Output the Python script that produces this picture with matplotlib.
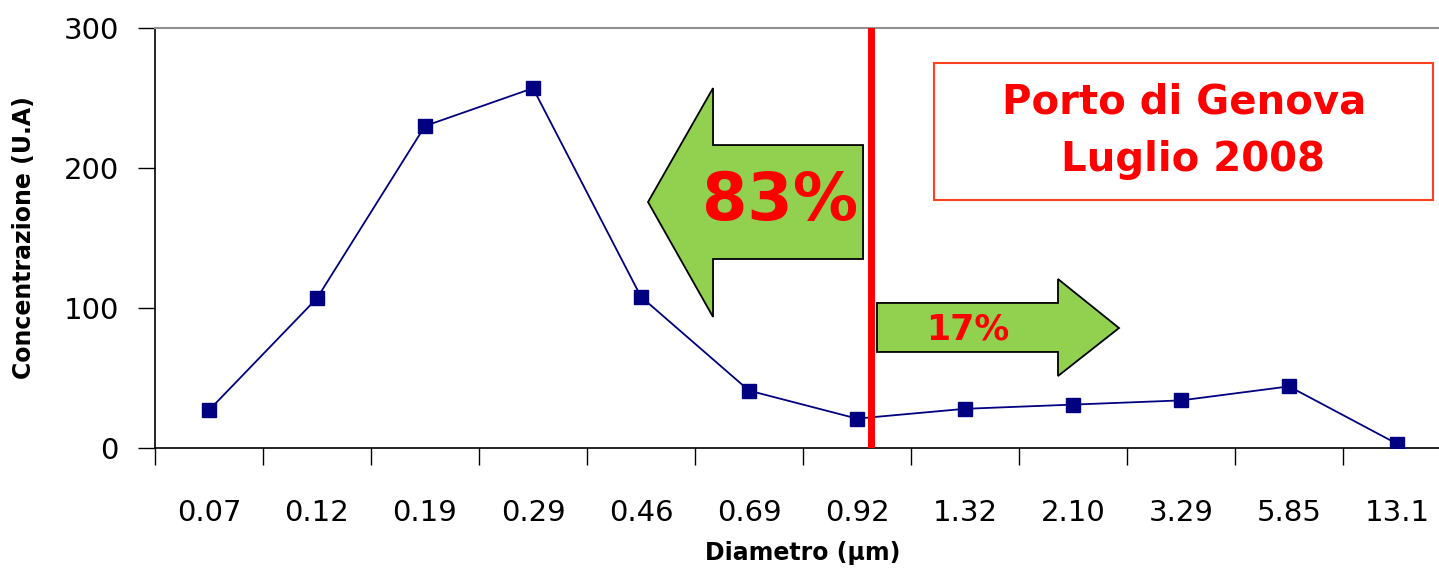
import matplotlib as mpl
mpl.use('Agg')
import matplotlib.pyplot as plt
from matplotlib.patches import Polygon, Rectangle

# data
diametri = ['0.07', '0.12', '0.19', '0.29', '0.46', '0.69', '0.92',
            '1.32', '2.10', '3.29', '5.85', '13.1']
concentrazione = [27, 107, 230, 257, 108, 41, 21, 28, 31, 34, 44, 3]
yticks = [0, 100, 200, 300]

fig = plt.figure(figsize=(14.39, 5.77), dpi=100)
ax = fig.add_axes([155/1439, 129/577, 1296/1439, 420/577])

x = list(range(len(diametri)))
ax.plot(x, concentrazione, color='#000080', lw=1.3, marker='s', markersize=10,
        markerfacecolor='#000080', markeredgecolor='#000080', zorder=3)

ax.set_xlim(-0.5, len(diametri) - 0.5)
ax.set_ylim(0, 300)
ax.set_yticks(yticks)
ax.tick_params(axis='y', direction='out', length=12, width=1, pad=14, labelsize=21)

# boundaries get the tick marks, centres get the labels
ax.set_xticks([i - 0.5 for i in range(len(diametri) + 1)])
ax.set_xticklabels([])
ax.set_xticks(x, minor=True)
ax.set_xticklabels(diametri, minor=True)
ax.tick_params(axis='x', which='major', direction='out', length=12, width=1)
ax.tick_params(axis='x', which='minor', length=0, pad=37, labelsize=21)

ax.spines['right'].set_visible(False)
ax.spines['top'].set_color('#909090')
ax.spines['top'].set_linewidth(1.5)
ax.spines['left'].set_linewidth(1.2)
ax.spines['bottom'].set_linewidth(1.2)

ax.set_xlabel('Diametro (\u03bcm)', fontsize=17, fontweight='bold', labelpad=10)
ax.set_ylabel('Concentrazione (U.A)', fontsize=17, fontweight='bold', labelpad=20)

# red separator
ax.axvline(6.13, color='#ff0000', lw=5, zorder=4)

green = '#92d050'
left_arrow = [(4.065, 175.7), (4.667, 257.1), (4.667, 216.4), (6.056, 216.4),
              (6.056, 135.0), (4.667, 135.0), (4.667, 93.6)]
right_arrow = [(6.185, 103.6), (7.861, 103.6), (7.861, 120.7), (8.426, 85.7),
               (7.861, 51.4), (7.861, 68.6), (6.185, 68.6)]
ax.add_patch(Polygon(left_arrow, closed=True, facecolor=green, edgecolor='black', lw=1.3, zorder=2))
ax.add_patch(Polygon(right_arrow, closed=True, facecolor=green, edgecolor='black', lw=1.3, zorder=2))
ax.text(5.29, 176, '83%', color='#ff0000', fontsize=47, fontweight='bold',
        ha='center', va='center', zorder=5)
ax.text(7.03, 85, '17%', color='#ff0000', fontsize=25, fontweight='bold',
        ha='center', va='center', zorder=5)

# title box
fig.patches.append(Rectangle((934/1439, 1 - 200/577), 499/1439, 137/577,
                             transform=fig.transFigure, facecolor='white',
                             edgecolor='#ff4020', lw=1.5))
fig.text(1184/1439, 1 - 102/577, 'Porto di Genova', color='#ff0000', fontsize=29,
         fontweight='bold', ha='center', va='center')
fig.text(1193/1439, 1 - 160/577, 'Luglio 2008', color='#ff0000', fontsize=29,
         fontweight='bold', ha='center', va='center')

fig.savefig('out.png', dpi=100)
